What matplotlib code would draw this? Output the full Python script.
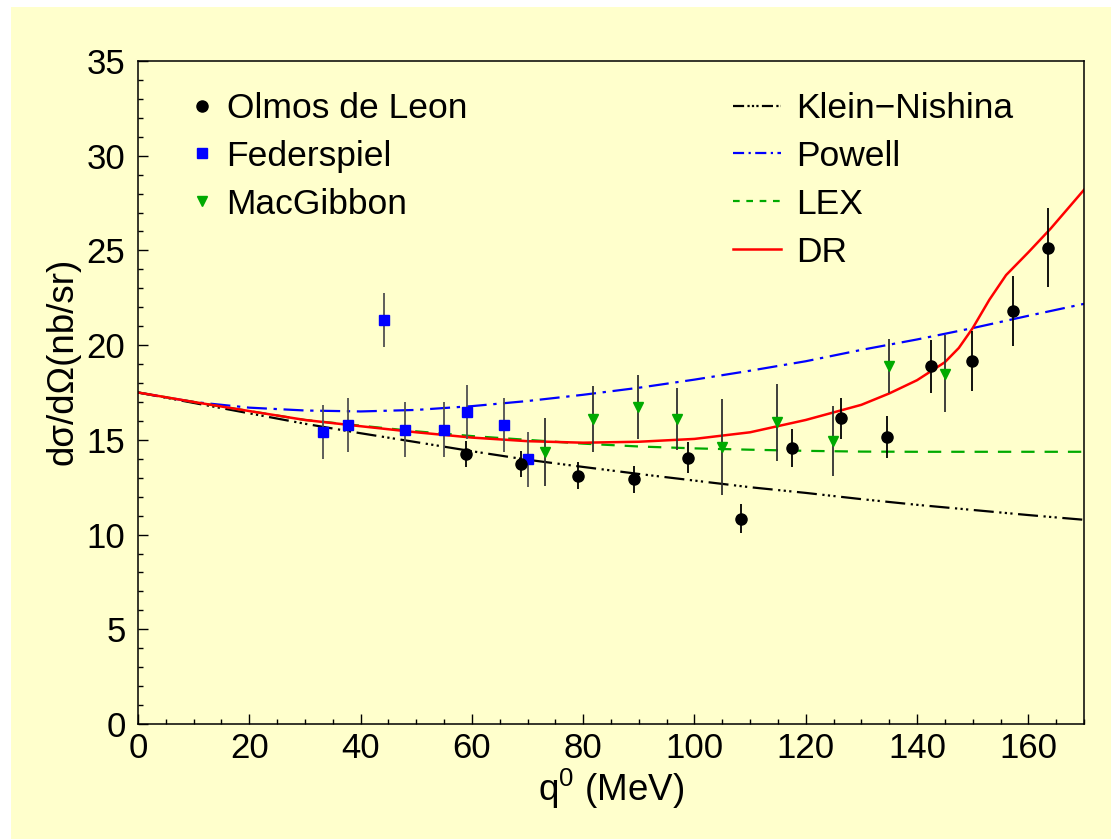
import numpy as np
import matplotlib
matplotlib.use("Agg")
import matplotlib.pyplot as plt
from matplotlib.lines import Line2D
from matplotlib.patches import Rectangle

plt.rcParams['font.family'] = ['Liberation Sans', 'DejaVu Sans']
plt.rcParams['mathtext.fontset'] = 'custom'
plt.rcParams['mathtext.rm'] = 'Liberation Sans'
plt.rcParams['mathtext.it'] = 'Liberation Sans:italic'

# --- data points (q0 in MeV, dsigma/dOmega in nb/sr) ---
olmos_x = [58.9, 68.9, 79.1, 89.1, 98.8, 108.4, 117.5, 126.4, 134.6, 142.5, 149.9, 157.2, 163.6]
olmos_y = [14.26, 13.72, 13.11, 12.92, 14.06, 10.84, 14.59, 16.13, 15.15, 18.88, 19.17, 21.82, 25.15]
olmos_err = [0.7, 0.7, 0.7, 0.72, 0.82, 0.75, 1.0, 1.1, 1.1, 1.4, 1.6, 1.85, 2.1]

fed_x = [33.2, 37.7, 44.2, 48.0, 55.0, 59.2, 65.8, 70.0]
fed_y = [15.4, 15.8, 21.33, 15.54, 15.54, 16.47, 15.8, 13.97]
fed_err = [1.43, 1.43, 1.43, 1.44, 1.44, 1.44, 1.43, 1.44]

macg_x = [73.2, 81.8, 89.8, 96.8, 105.0, 114.9, 124.9, 134.95, 145.0]
macg_y = [14.38, 16.1, 16.75, 16.1, 14.64, 15.92, 14.94, 18.9, 18.5]
macg_err = [1.8, 1.76, 1.68, 1.63, 2.53, 2.02, 1.85, 1.4, 2.05]

# --- theory curves ---
kn_x = [0, 10, 20, 30, 40, 50, 60, 70, 80, 90, 100, 110, 120, 130, 140, 150, 160, 170]
kn_y = [17.5, 16.95, 16.4, 15.85, 15.35, 14.88, 14.4, 13.95, 13.57, 13.2, 12.85, 12.5,
        12.2, 11.87, 11.57, 11.3, 11.03, 10.78]

powell_x = [0, 10, 20, 30, 40, 50, 60, 70, 80, 90, 100, 110, 120, 130, 140, 150, 160, 170]
powell_y = [17.5, 17.0, 16.7, 16.55, 16.5, 16.58, 16.78, 17.05, 17.38, 17.75, 18.18, 18.65,
            19.15, 19.75, 20.3, 20.9, 21.55, 22.18]

lex_x = [0, 10, 20, 30, 40, 50, 60, 70, 80, 90, 100, 110, 120, 130, 140, 150, 160, 170]
lex_y = [17.5, 17.0, 16.52, 16.05, 15.75, 15.45, 15.2, 15.0, 14.8, 14.65, 14.55, 14.48,
         14.42, 14.38, 14.37, 14.37, 14.37, 14.37]

dr_x = [0, 10, 20, 30, 40, 50, 60, 70, 80, 90, 100, 110, 120, 130, 135, 140, 145,
        147.5, 150, 153, 156, 160, 164, 170]
dr_y = [17.5, 17.0, 16.52, 16.05, 15.72, 15.4, 15.12, 14.93, 14.85, 14.9, 15.05, 15.4,
        16.05, 16.85, 17.45, 18.15, 19.1, 19.85, 20.9, 22.4, 23.7, 24.9, 26.15, 28.2]

bg = '#ffffcc'

fig = plt.figure(figsize=(11.11, 8.39), dpi=100, facecolor='white')
fig.patches.append(Rectangle((11 / 1111, 0), 1, 1 - 7 / 839, transform=fig.transFigure,
                             facecolor=bg, edgecolor='none', zorder=-10))
ax = fig.add_axes([138 / 1111, 1 - 724 / 839, (1084 - 138) / 1111, (724 - 61) / 839])
ax.set_facecolor(bg)

ax.plot(kn_x, kn_y, color='black', lw=1.6, dashes=(9, 2.5, 1, 1.5, 1, 1.5, 1, 2.5))
ax.plot(powell_x, powell_y, color='#0000ff', lw=1.6, dashes=(9, 3, 1.5, 3))
ax.plot(lex_x, lex_y, color='#00aa00', lw=1.6, dashes=(6, 4.5))
ax.plot(dr_x, dr_y, color='#ff0000', lw=1.8)

ax.errorbar(fed_x, fed_y, yerr=fed_err, fmt='none', ecolor='#505050', elinewidth=1.3)
ax.errorbar(macg_x, macg_y, yerr=macg_err, fmt='none', ecolor='#303030', elinewidth=1.3)
ax.errorbar(olmos_x, olmos_y, yerr=olmos_err, fmt='none', ecolor='black', elinewidth=1.3)
ax.plot(fed_x, fed_y, 's', color='#0000ff', ms=7.5, mec='#0000ff', zorder=5)
ax.plot(macg_x, macg_y, 'v', color='#00aa00', ms=7.5, zorder=5)
ax.plot(olmos_x, olmos_y, 'o', color='black', ms=8, zorder=5)

ax.set_xlim(0, 170)
ax.set_ylim(0, 35)
ax.set_xticks(np.arange(0, 161, 20))
ax.set_xticks(np.arange(0, 171, 5), minor=True)
ax.set_yticks(np.arange(0, 36, 5))
ax.set_yticks(np.arange(0, 36, 1), minor=True)
ax.tick_params(which='both', direction='in', top=False, right=False, labelsize=25)
ax.tick_params(which='major', length=7, width=1)
ax.tick_params(which='minor', length=3.6, width=1)
ax.tick_params(axis='y', pad=9)
ax.tick_params(axis='x', pad=6)
for s in ax.spines.values():
    s.set_linewidth(1.1)

ax.set_xlabel('q$^{0}$ (MeV)', fontsize=26.5, labelpad=1)
fig.text(63 / 1111, 1 - 361 / 839, 'd\u03c3/d\u03a9(nb/sr)', rotation=90, fontsize=26.5,
         ha='center', va='center')

left_handles = [
    Line2D([], [], ls='none', marker='o', color='black', ms=8),
    Line2D([], [], ls='none', marker='s', color='#0000ff', ms=7.5),
    Line2D([], [], ls='none', marker='v', color='#00aa00', ms=7.5),
]
leg1 = ax.legend(left_handles, ['Olmos de Leon', 'Federspiel', 'MacGibbon'],
                 loc='upper left', bbox_to_anchor=(0.03, 0.98), frameon=False,
                 fontsize=25.5, handlelength=1.0, handletextpad=0.2, labelspacing=0.42,
                 borderpad=0)
ax.add_artist(leg1)

right_handles = [
    Line2D([], [], color='black', lw=1.6, dashes=(5, 1.5, 1, 1, 1, 1, 1, 1.5)),
    Line2D([], [], color='#0000ff', lw=1.6, dashes=(5, 2, 1, 2)),
    Line2D([], [], color='#00aa00', lw=1.6, dashes=(3, 3)),
    Line2D([], [], color='#ff0000', lw=1.8),
]
ax.legend(right_handles, ['Klein\u2212Nishina', 'Powell', 'LEX', 'DR'],
          loc='upper left', bbox_to_anchor=(0.61, 0.98), frameon=False,
          fontsize=25.5, handlelength=1.35, handletextpad=0.45, labelspacing=0.42,
          borderpad=0)

fig.savefig('out.png', dpi=100, facecolor='white')
